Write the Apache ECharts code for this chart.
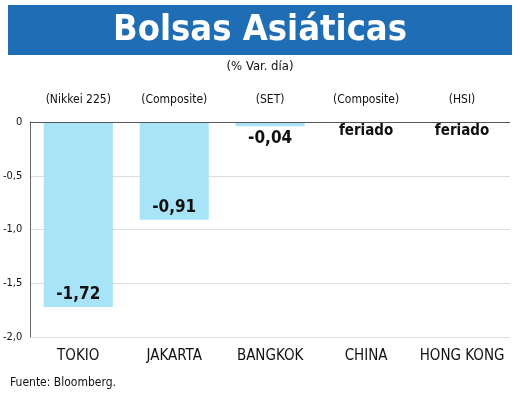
<!DOCTYPE html><html><head><meta charset="utf-8"><script src="https://cdn.jsdelivr.net/npm/echarts@6/dist/echarts.min.js"></script>
<style>body{margin:0}#c{width:520px;height:411px}</style></head><body><div id="c"></div><script>
const categories=['TOKIO','JAKARTA','BANGKOK','CHINA','HONG KONG'];
const indices=['(Nikkei 225)','(Composite)','(SET)','(Composite)','(HSI)'];
const values=[-1.72,-0.91,-0.04,null,null];
const holidays=[null,null,null,0,0];
const yTicks=[0,-0.5,-1.0,-1.5,-2.0];
const F='"DejaVu Sans Condensed","Liberation Sans",sans-serif';
const c=echarts.init(document.getElementById('c'));
const fmt=v=>v.toFixed(2).replace('.',',');
c.setOption({animation:false,
graphic:[{type:'rect',left:8,top:5,shape:{width:504,height:50},style:{fill:'#1f6db5'}},
{type:'text',x:260,y:31,style:{text:'Bolsas Asiáticas',fill:'#fff',font:'bold 36px '+F,align:'center',verticalAlign:'middle'}},
{type:'text',x:260,y:67,style:{text:'(% Var. día)',fill:'#111',font:'13px '+F,align:'center',verticalAlign:'middle'}},
{type:'text',left:10,top:377,style:{text:'Fuente: Bloomberg.',fill:'#111',font:'12px '+F}}],
grid:{left:28,right:10,top:122,bottom:74},
xAxis:[{type:'category',data:categories,position:'bottom',axisLine:{show:false},axisTick:{show:false},axisLabel:{interval:0,color:'#111',fontFamily:F,fontSize:15,margin:12}},
{type:'category',data:indices,position:'top',axisLine:{show:false},axisTick:{show:false},axisLabel:{interval:0,color:'#111',fontFamily:F,fontSize:12,margin:16}}],
yAxis:{type:'value',min:-2,max:0,interval:0.5,axisLine:{show:true,lineStyle:{color:'#666'}},splitLine:{lineStyle:{color:'#ddd'}},
axisLabel:{color:'#111',fontFamily:F,fontSize:11,margin:8,formatter:v=>v===0?'0':v.toFixed(1).replace('.',',')}},
series:[{type:'bar',data:values.map((v,i)=>({value:v,label:{position:i==2?'bottom':'insideBottom'}})),barWidth:'72%',barGap:'-100%',itemStyle:{color:'#a8e4f8'},
label:{show:true,formatter:p=>fmt(p.value),fontFamily:F,fontWeight:'bold',fontSize:17,color:'#111',distance:4}},
{type:'bar',data:holidays,barWidth:'72%',itemStyle:{color:'transparent'},label:{show:true,position:'bottom',formatter:'feriado',fontFamily:F,fontWeight:'bold',fontSize:15,color:'#111',distance:2},
markLine:{silent:true,symbol:'none',label:{show:false},lineStyle:{color:'#555',type:'solid',width:1},data:[{yAxis:0}]}}]});
</script></body></html>
